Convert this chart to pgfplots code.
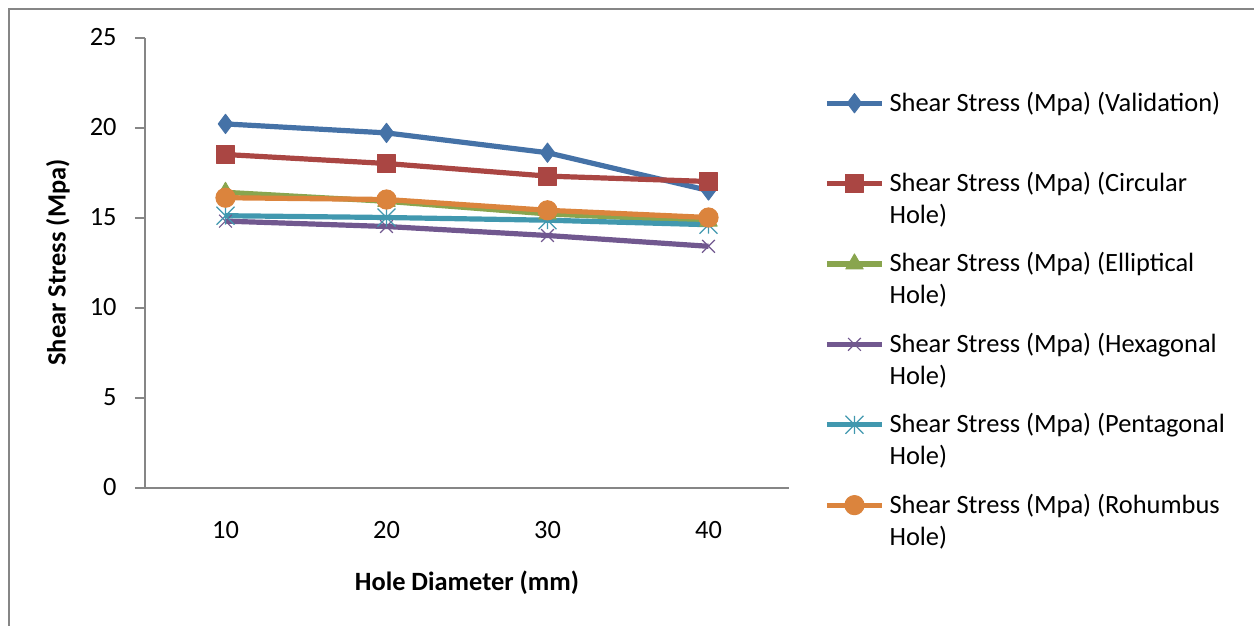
\documentclass[border=0pt]{standalone}
\usepackage{pgfplots}
\pgfplotsset{compat=1.18}
\usepackage{pgfplotstable}
\usepackage{fontspec}
\setmainfont{Carlito}

\definecolor{sBlue}{RGB}{69,114,167}
\definecolor{sRed}{RGB}{170,70,67}
\definecolor{sGreen}{RGB}{137,165,78}
\definecolor{sPurple}{RGB}{113,88,143}
\definecolor{sTeal}{RGB}{65,152,175}
\definecolor{sOrange}{RGB}{219,132,61}
\definecolor{axisGray}{RGB}{134,134,134}

% star marker: an x with a vertical stroke through it
\pgfdeclareplotmark{xstar}{%
  \pgfpathmoveto{\pgfqpoint{-\pgfplotmarksize}{-\pgfplotmarksize}}%
  \pgfpathlineto{\pgfqpoint{\pgfplotmarksize}{\pgfplotmarksize}}%
  \pgfpathmoveto{\pgfqpoint{-\pgfplotmarksize}{\pgfplotmarksize}}%
  \pgfpathlineto{\pgfqpoint{\pgfplotmarksize}{-\pgfplotmarksize}}%
  \pgfpathmoveto{\pgfqpoint{0pt}{-\pgfplotmarksize}}%
  \pgfpathlineto{\pgfqpoint{0pt}{\pgfplotmarksize}}%
  \pgfusepathqstroke}

\newcommand\cfont{\fontsize{13.2bp}{16bp}\selectfont}
\newcommand\lstrut{\rule[-4.8bp]{0pt}{16bp}}
% legend entries: one or two lines
\newcommand\entA[1]{\vtop{\offinterlineskip\hbox{\lstrut#1}}}
\newcommand\entB[2]{\vtop{\offinterlineskip\hbox{\lstrut#1}\hbox{\lstrut#2}}}

\pgfplotstableread{
d   val   circ  ell   hex   pent  rho
10  20.2  18.5  16.4  14.8  15.1  16.1
20  19.7  18.0  15.9  14.5  15.0  16.0
30  18.6  17.3  15.2  14.0  14.85 15.4
40  16.5  17.0  14.8  13.4  14.6  15.0
}\shear

\begin{document}
\begin{tikzpicture}
\useasboundingbox (0,0) rectangle (627bp,-313bp);
\draw[axisGray, line width=1bp] (4.25bp,-340bp) -- (4.25bp,-4.25bp) -- (640bp,-4.25bp);
\begin{axis}[
  at={(72.5bp,-243.75bp)}, anchor=south west,
  scale only axis, width=322bp, height=225bp,
  xmin=5, xmax=45, ymin=0, ymax=25,
  xtick={10,20,30,40}, ytick={0,5,...,25},
  axis x line*=bottom, axis y line*=left,
  axis line style={draw=axisGray, line width=1bp},
  xtick align=inside, ytick align=outside,
  xtick style={draw=none},
  ytick style={draw=axisGray, line width=1bp},
  major tick length=5bp,
  /pgf/number format/assume math mode=true,
  ticklabel style={font=\cfont},
  yticklabel style={anchor=east, inner sep=0pt, xshift=-9bp},
  xticklabel style={anchor=center, inner sep=0pt, yshift=-21.25bp},
  xlabel={Hole Diameter (mm)},
  ylabel={Shear Stress (Mpa)},
  xlabel style={at={(axis description cs:0.5,-0.2122)}, anchor=center, inner sep=0pt, font=\cfont\bfseries},
  ylabel style={at={(axis description cs:-0.1351,0.5)}, anchor=center, inner sep=0pt, font=\cfont\bfseries},
  legend style={at={(axis description cs:1.0543,0.8869)}, anchor=north west,
    draw=none, fill=none, inner sep=0pt, row sep=27.5bp, column sep=2.5bp,
    font=\cfont, cells={anchor=base west}, nodes={inner sep=0pt}},
  legend image code/.code={%
    \draw[mark repeat=2,mark phase=2] plot coordinates {(0bp,4bp) (13.75bp,4bp) (27.5bp,4bp)};},
  every axis plot/.append style={line width=2.6bp, line join=round},
  clip=false,
]
\addplot[sBlue, mark=diamond*, mark size=4.8bp, mark options={solid, line width=0.5bp}] table[x=d, y=val] {\shear};
\addlegendentry{\entA{Shear Stress (Mpa) (Validation)}}
\addplot[sRed, mark=square*, mark size=4.5bp, mark options={solid, line width=0.5bp}] table[x=d, y=circ] {\shear};
\addlegendentry{\entB{Shear Stress (Mpa) (Circular}{Hole)}}
\addplot[sGreen, mark=triangle*, mark size=5bp, mark options={solid, line width=0.5bp}] table[x=d, y=ell] {\shear};
\addlegendentry{\entB{Shear Stress (Mpa) (Elliptical}{Hole)}}
\addplot[sPurple, mark=x, mark size=4.5bp, mark options={solid, line width=0.6bp}] table[x=d, y=hex] {\shear};
\addlegendentry{\entB{Shear Stress (Mpa) (Hexagonal}{Hole)}}
\addplot[sTeal, mark=xstar, mark size=4.5bp, mark options={solid, line width=0.6bp}] table[x=d, y=pent] {\shear};
\addlegendentry{\entB{Shear Stress (Mpa) (Pentagonal}{Hole)}}
\addplot[sOrange, mark=*, mark size=4.8bp, mark options={solid, line width=0.5bp}] table[x=d, y=rho] {\shear};
\addlegendentry{\entB{Shear Stress (Mpa) (Rohumbus}{Hole)}}
\end{axis}
\end{tikzpicture}
\end{document}
